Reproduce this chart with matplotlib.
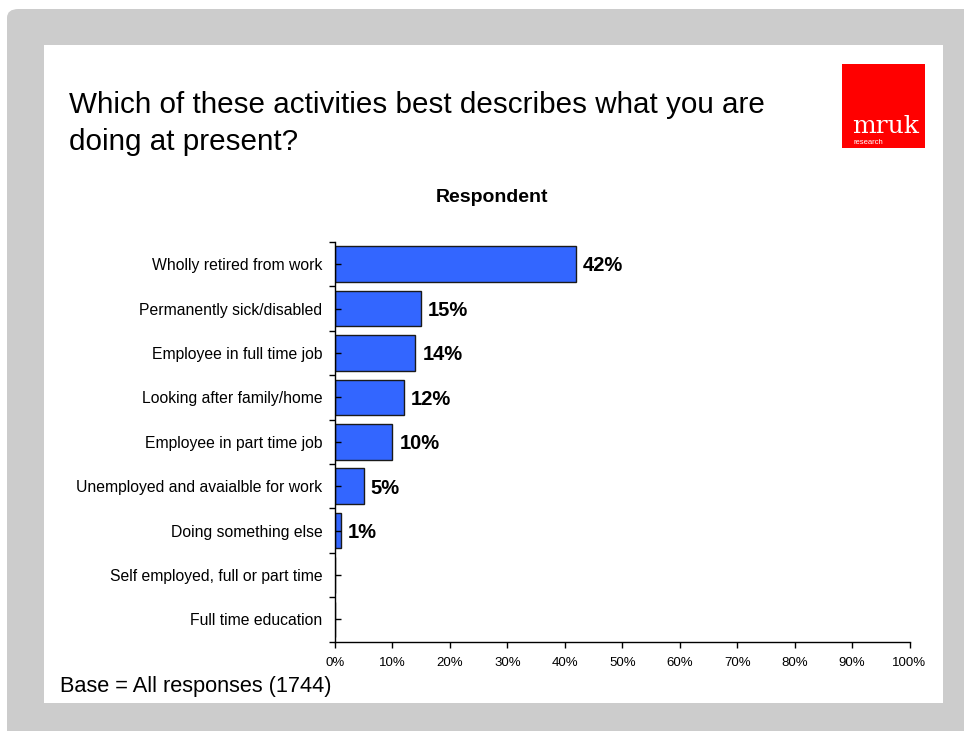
import matplotlib
matplotlib.use("Agg")
import matplotlib.pyplot as plt
from matplotlib.patches import FancyBboxPatch, Rectangle
from matplotlib.ticker import FixedLocator, PercentFormatter

plt.rcParams["font.family"] = ["Liberation Sans", "DejaVu Sans"]

categories = [
    "Wholly retired from work",
    "Permanently sick/disabled",
    "Employee in full time job",
    "Looking after family/home",
    "Employee in part time job",
    "Unemployed and avaialble for work",
    "Doing something else",
    "Self employed, full or part time",
    "Full time education",
]
values = [42, 15, 14, 12, 10, 5, 1, 0, 0]
value_labels = ["42%", "15%", "14%", "12%", "10%", "5%", "1%", "", ""]
x_ticks = [0, 10, 20, 30, 40, 50, 60, 70, 80, 90, 100]

title_lines = ["Which of these activities best describes what you are",
               "doing at present?"]
series_name = "Respondent"
base_note = "Base = All responses (1744)"

W, H = 964, 731
fig = plt.figure(figsize=(W / 100, H / 100), dpi=100)
fig.patch.set_facecolor("white")


def fx(px):
    return px / W


def fy(py):
    return 1 - py / H


# slide frame: grey rounded backdrop and white content panel
fig.patches.append(FancyBboxPatch((fx(7), fy(760)), fx(1000), (760 - 9) / H,
                                  boxstyle="round,pad=0,rounding_size=0.012",
                                  transform=fig.transFigure, facecolor="#cccccc",
                                  edgecolor="none", zorder=0))
fig.patches.append(Rectangle((fx(44), fy(703)), fx(943 - 44), (703 - 45) / H,
                             transform=fig.transFigure, facecolor="white",
                             edgecolor="none", zorder=1))

# logo
fig.patches.append(Rectangle((fx(842), fy(148)), fx(925 - 842), (148 - 64) / H,
                             transform=fig.transFigure, facecolor="#ff0000",
                             edgecolor="none", zorder=2))
fig.text(fx(852), fy(133), "mruk", color="white", fontsize=18,
         family="DejaVu Serif", ha="left", va="baseline", zorder=3)
fig.text(fx(854), fy(144), "research", color="white", fontsize=5.5,
         ha="left", va="baseline", zorder=3)

for line, base_y in zip(title_lines, (113, 150)):
    fig.text(fx(69), fy(base_y), line, fontsize=21.3, ha="left", va="baseline",
             zorder=3)
fig.text(fx(60), fy(692), base_note, fontsize=15.7, ha="left", va="baseline",
         zorder=3)
fig.text(fx(492), fy(198), series_name, fontsize=14, fontweight="bold",
         ha="center", va="center", zorder=3)

ax = fig.add_axes([fx(335), fy(641.7), fx(909.5 - 335), (641.7 - 242) / H])
ax.set_zorder(4)
ax.patch.set_alpha(0)

n = len(categories)
ypos = list(range(n))
bars = ax.barh(ypos, values, height=0.8, color="#3366ff", edgecolor="#1a1a1a",
               linewidth=1.0)
for b, v, lab in zip(bars, values, value_labels):
    if lab:
        ax.text(v + 1.2, b.get_y() + b.get_height() / 2 + 0.04, lab,
                fontsize=14.5, fontweight="bold", ha="left", va="center")

ax.set_xlim(0, 100)
ax.set_ylim(n - 0.5, -0.5)

ax.set_yticks(ypos)
ax.set_yticklabels(categories, fontsize=11.3)
ax.yaxis.set_minor_locator(FixedLocator([i - 0.5 for i in range(n + 1)]))
ax.tick_params(axis="y", which="major", direction="in", length=4, width=1,
               pad=9, color="black")
ax.tick_params(axis="y", which="minor", direction="out", length=4, width=1,
               color="black")

ax.set_xticks(x_ticks)
ax.xaxis.set_major_formatter(PercentFormatter(decimals=0))
ax.tick_params(axis="x", which="major", direction="out", length=4, width=1,
               labelsize=9.5, pad=7, color="black")

for side in ("top", "right"):
    ax.spines[side].set_visible(False)
for side in ("left", "bottom"):
    ax.spines[side].set_linewidth(1.0)

fig.savefig("out.png", dpi=100)
